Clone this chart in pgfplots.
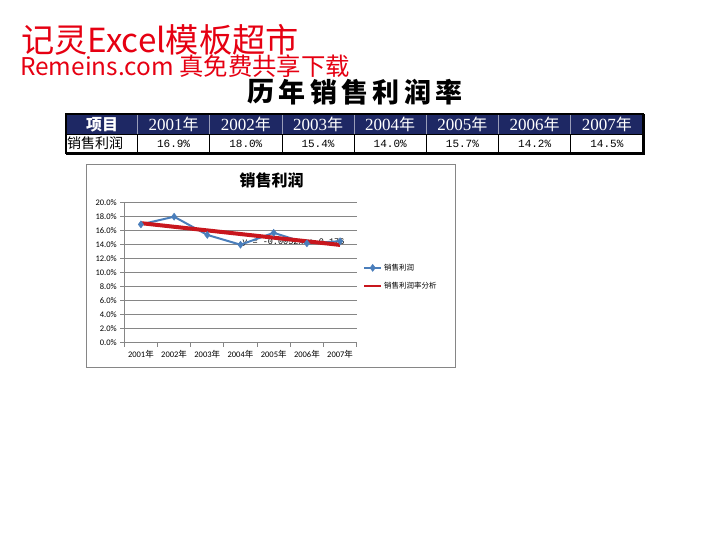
\documentclass[border=0pt]{standalone}
\usepackage{fontspec}
\usepackage{pgfplots}
\pgfplotsset{compat=1.18}
\setmainfont{Liberation Serif}
\newfontfamily\cjk{Noto Sans CJK SC}
\newfontfamily\mono{Liberation Mono}
\newfontfamily\carlito{Carlito}
\definecolor{navy}{HTML}{1E2864}
\definecolor{wmred}{HTML}{E60012}
\definecolor{axgray}{HTML}{868686}
\definecolor{sblue}{HTML}{4A7EBB}
\definecolor{tred}{HTML}{C8161D}
\begin{document}
\begin{tikzpicture}[x=1pt,y=-1pt]
\useasboundingbox (0,0) rectangle (712,550);
\fill[white] (0,0) rectangle (712,550);
% watermark
\node[anchor=base west, inner sep=0, text=wmred, font=\cjk\fontsize{33.2}{33}\selectfont] at (21,52) {记灵Excel模板超市};
\node[anchor=base west, inner sep=0, text=wmred, font=\cjk\fontsize{24.4}{25}\selectfont] at (20,75.5) {Remeins.com 真免费共享下载};
% title
\foreach \c [count=\i from 0] in {历,年,销,售,利,润,率}
  \node[font=\cjk\bfseries\fontsize{27}{27}\selectfont, inner sep=0] at (260.7+31.4*\i, 92) {\c};
% table
\fill[navy] (66,114) rectangle (643,134.5);
\foreach \k in {0,...,6} {
  \pgfmathsetmacro\xs{137.5+72.21*\k}
  \draw[white!55!navy, line width=0.6] (\xs,114) -- (\xs,134.5);
  \draw[black, line width=0.6] (\xs,134.5) -- (\xs,152.5);
}
\draw[black, line width=0.6] (66,134.5) -- (643,134.5);
\draw[black, line width=1.5] (66,114) rectangle (643,153);
\draw[black, line width=2.5] (643.5,114) -- (643.5,154) -- (66,154);
\node[text=white, font=\cjk\bfseries\fontsize{16}{16}\selectfont] at (102,124.5) {项目};
\foreach \y [count=\i from 0] in {2001,2002,2003,2004,2005,2006,2007}
  \node[text=white, font=\fontsize{17}{17}\selectfont, inner sep=0] at (173.6+72.21*\i,124.5) {\y{\cjk\fontsize{16}{16}\selectfont 年}};
\node[anchor=west, inner sep=0, font=\cjk\fontsize{14}{14}\selectfont] at (67,143.5) {销售利润};
\foreach \v [count=\i from 0] in {16.9,18.0,15.4,14.0,15.7,14.2,14.5}
  \node[font=\mono\fontsize{11}{11}\selectfont, inner sep=0] at (173.6+72.21*\i,143.5) {\v\%};
% chart frame and title
\draw[axgray, line width=0.8] (86,164) rectangle (455,367);
\node[font=\cjk\bfseries\fontsize{16}{16}\selectfont] at (271.5,180) {销售利润};
\begin{axis}[
  at={(124.3pt,-342.7pt)}, anchor=south west,
  width=232.4pt, height=140pt, scale only axis,
  xmin=-0.5, xmax=6.5, ymin=0, ymax=20,
  axis x line*=bottom, axis y line*=left,
  axis line style={draw=axgray, line width=0.8pt},
  xtick={-0.5,0.5,...,6.5}, xticklabels={},
  extra x ticks={0,1,2,3,4,5,6},
  extra x tick labels={2001{\cjk 年},2002{\cjk 年},2003{\cjk 年},2004{\cjk 年},2005{\cjk 年},2006{\cjk 年},2007{\cjk 年}},
  extra x tick style={major tick length=0pt, tick label style={yshift=-4pt}},
  ytick={0,2,...,20},
  yticklabel={\pgfmathprintnumber[fixed,fixed zerofill,precision=1]{\tick}\%},
  /pgf/number format/assume math mode=true,
  ymajorgrids, grid style={draw=axgray, line width=0.8pt},
  tick align=outside, major tick length=4pt,
  tick style={draw=axgray, line width=0.8pt},
  tick label style={font=\carlito\fontsize{8.5}{9}\selectfont},
  legend style={at={(1.014,0.469)}, anchor=west, draw=none, fill=none,
    font=\cjk\fontsize{7.5}{8}\selectfont, row sep=6.5pt},
  legend cell align=left,
]
\node[anchor=west, inner sep=0, font=\mono\fontsize{8.5}{9}\selectfont] at (axis cs:3.05,14.25) {y = -0.0052x + 0.176};
\addplot[sblue, line width=2pt, mark=diamond*, mark size=3.5pt,
  mark options={fill=sblue, draw=sblue, line width=0.5pt}]
  coordinates {(0,16.9) (1,18.0) (2,15.4) (3,14.0) (4,15.7) (5,14.2) (6,14.5)};
\addlegendentry{销售利润}
\addplot[tred, line width=4pt, legend image post style={line width=1.8pt}]
  coordinates {(0,17.08) (6,13.97)};
\addlegendentry{销售利润率分析}
\end{axis}
\end{tikzpicture}
\end{document}
